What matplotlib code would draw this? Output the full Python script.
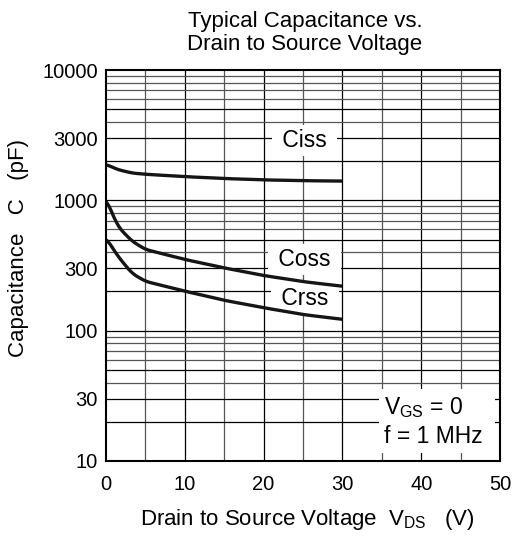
import numpy as np
import matplotlib.pyplot as plt
from matplotlib.ticker import FixedLocator, NullFormatter, NullLocator

plt.rcParams["font.family"] = ["Liberation Sans", "DejaVu Sans"]
plt.rcParams["mathtext.fontset"] = "custom"
plt.rcParams["mathtext.rm"] = "Liberation Sans"

# curve data (V_DS in V, capacitance in pF)
vds = [0, 1.5, 3.3, 5, 10, 15, 20, 25, 30]
ciss = [1890, 1720, 1620, 1585, 1520, 1470, 1435, 1415, 1405]
coss = [1030, 630, 486, 420, 352, 303, 265, 238, 219]
crss = [516, 373, 275, 239, 201, 171, 150, 133, 122]

x_ticks = [0, 10, 20, 30, 40, 50]
y_ticks = [10, 30, 100, 300, 1000, 3000, 10000]
y_tick_labels = ["10", "30", "100", "300", "1000", "3000", "10000"]

W, H = 523, 538
fig = plt.figure(figsize=(W / 100, H / 100), dpi=100)
ax = fig.add_axes([106 / W, 1 - 461 / H, 394 / W, 391 / H])

ax.set_xlim(0, 50)
ax.set_ylim(10, 10000)
ax.set_yscale("log")

# grid: every 5 V, every 1-2-...-9 per decade
for xv in np.arange(5, 50, 5):
    col = "black" if xv % 10 == 0 else "#555555"
    ax.axvline(xv, color=col, lw=0.9, zorder=1)
for dec in [10, 100, 1000]:
    for m in range(1, 10):
        yv = dec * m
        if yv == 10:
            continue
        col = "black" if m in (1, 2, 3, 5) else "#555555"
        ax.axhline(yv, color=col, lw=0.9, zorder=1)

def smooth(xs, ys):
    xn = np.linspace(xs[0], xs[-1], 200)
    yn = np.interp(xn, xs, np.log10(ys))
    k = np.ones(9) / 9
    pad = np.pad(yn, 4, mode="edge")
    yn = np.convolve(pad, k, mode="valid")
    return xn, 10 ** yn

for ys in [ciss, coss, crss]:
    xs_, ys_ = smooth(vds, ys)
    ax.plot(xs_, ys_, color="#151515", lw=2.4, zorder=6, solid_capstyle="butt")

box = dict(facecolor="white", edgecolor="none", pad=3)
for label, yv in [("Ciss", 2860), ("Coss", 352), ("Crss", 175)]:
    ax.text(25.2, yv, " " + label + " ", fontsize=16.5, ha="center", va="center",
            bbox=box, zorder=4)
ax.text(35.3, 20, "V$_\\mathregular{GS}$ = 0 \nf = 1 MHz ", fontsize=16.5,
        ha="left", va="center", linespacing=1.25,
        bbox=dict(facecolor="white", edgecolor="none", pad=4), zorder=4)

ax.xaxis.set_major_locator(FixedLocator(x_ticks))
ax.yaxis.set_major_locator(FixedLocator(y_ticks))
ax.yaxis.set_minor_locator(NullLocator())
ax.yaxis.set_minor_formatter(NullFormatter())
ax.set_yticklabels(y_tick_labels)
ax.tick_params(axis="both", length=0, labelsize=14.5)
ax.tick_params(axis="x", pad=10)
ax.tick_params(axis="y", pad=6)

for s in ax.spines.values():
    s.set_linewidth(1.5)
    s.set_zorder(7)

fig.text(307 / W, 1 - 525 / H, "Drain to Source Voltage  V$_\\mathregular{DS}$   (V)",
         fontsize=16, ha="center", va="baseline")
fig.text(19 / W, 1 - 248 / H, "Capacitance   C   (pF)", fontsize=16,
         rotation=90, ha="center", va="center")
fig.text(305 / W, 1 - 27 / H, "Typical Capacitance vs.", fontsize=16,
         ha="center", va="baseline")
fig.text(305 / W, 1 - 50 / H, "Drain to Source Voltage", fontsize=16,
         ha="center", va="baseline")

fig.savefig("out.png", dpi=100)
